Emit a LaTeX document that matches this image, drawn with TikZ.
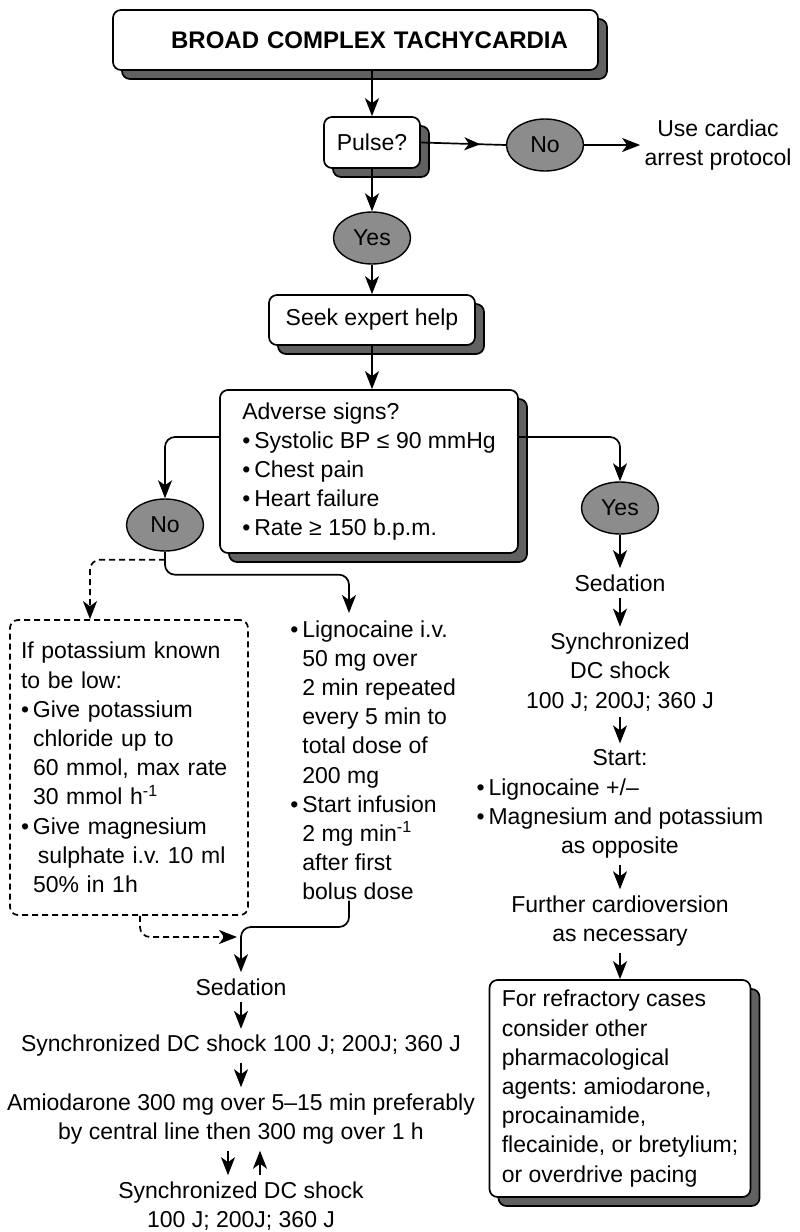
\documentclass[tikz,border=0pt]{standalone}
\usepackage{fontspec}
\setmainfont{Liberation Sans}
\usetikzlibrary{arrows.meta,positioning,calc,shapes.geometric,shadows,decorations.markings}
\newcommand{\flowfs}{\fontsize{11.5}{14.6}\selectfont\frenchspacing}
\newcommand{\bl}{\makebox[6pt][l]{\textbullet}}
\newcommand{\hi}{\hspace*{6pt}}
\newlength{\maglen}
\definecolor{shade}{gray}{0.38}
\definecolor{ovalgray}{gray}{0.55}

\begin{document}
\begin{tikzpicture}[x=0.5pt,y=-0.5pt,font=\flowfs]
\tikzset{box/.style={draw,rounded corners=4pt,fill=white,line width=0.85pt,
    general shadow={fill=shade,draw=black,shadow xshift=4.5pt,shadow yshift=-4.5pt}},
  oval/.style={ellipse,draw,fill=ovalgray,minimum width=38.5pt,minimum height=26pt,inner sep=0pt,line width=0.7pt},
  txt/.style={align=center,inner xsep=2pt,inner ysep=3pt},
  arr/.style={-{Stealth[length=9pt,width=7pt,inset=2.5pt]},line width=0.85pt},
  midarr/.style={line width=0.85pt,postaction={decorate},decoration={markings,
    mark=at position 0.7 with {\arrow{Stealth[length=8pt,width=6.5pt,inset=2.3pt]}}}},
  dsh/.style={dash pattern=on 3pt off 2pt}}
\useasboundingbox (0,0) rectangle (799,1232);

% top of the chart
\node[box,font=\fontsize{12}{14}\selectfont\bfseries,minimum height=30pt,text width=212.5pt,inner xsep=15pt,align=right] (title) at (355.5,40) {BROAD COMPLEX TACHYCARDIA};
\node[box,minimum width=48pt,minimum height=25.5pt,inner sep=0pt] (pulse) at (372,142.5) {Pulse?};
\node[oval] (no1) at (545,145) {No};
\node[txt] (arrest) at (718,145) {Use cardiac\\arrest protocol};
\node[oval] (yes1) at (372,238) {Yes};
\node[box,minimum width=103pt,minimum height=25pt] (seek) at (372,320) {Seek expert help};
\node[box,align=left,minimum width=149pt,minimum height=81.5pt] (adv) at (369,471.5) {Adverse signs?\\\bl Systolic BP ≤ 90 mmHg\\\bl Chest pain\\\bl Heart failure\\\bl Rate ≥ 150 b.p.m.};
\node[oval] (no2) at (165,525) {No};
\node[oval] (yes2) at (620,508) {Yes};

% left branch
\node[draw,dsh,rounded corners=4pt,line width=0.85pt,minimum height=147.5pt,text width=108pt,inner xsep=5.5pt,align=left] (kbox) at (129,767.5) {If potassium known\\to be low:\\\bl Give potassium\\\hi chloride up to\\\hi 60 mmol, max rate\\\hi 30 mmol h\textsuperscript{-1}\\\bl Give magnesium\\\hspace*{8.5pt}sulphate i.v. 10 ml\\\hi 50\% in 1h};
\node[align=left,inner sep=0pt,anchor=north west] (lig) at (290,620) {\bl Lignocaine i.v.\\\hi 50 mg over\\\hi 2 min repeated\\\hi every 5 min to\\\hi total dose of\\\hi 200 mg\\\bl Start infusion\\\hi 2 mg min\textsuperscript{-1}\\\hi after first\\\hi bolus dose};
\coordinate (ligin) at (349,613);
\coordinate (merge) at (241,927);
\coordinate (dashin) at (237,937);
\node[txt] (sed1) at (241,987) {Sedation};
\node[txt] (dc1) at (241,1046) {Synchronized DC shock 100 J; 200J; 360 J};
\node[txt] (amio) at (241,1119) {Amiodarone 300 mg over 5--15 min preferably\\by central line then 300 mg over 1 h};
\node[txt] (dc3) at (241,1206) {Synchronized DC shock\\100 J; 200J; 360 J};

% right branch
\node[txt] (sed2) at (620,583) {Sedation};
\node[txt] (dc2) at (620,672) {Synchronized\\DC shock\\100 J; 200J; 360 J};
\node[txt] (start) at (620,804) {Start:\\\settowidth{\maglen}{\bl Magnesium and potassium}\makebox[\maglen][l]{\bl Lignocaine +/--}\\\bl Magnesium and potassium\\as opposite};
\node[txt] (fur) at (620,921) {Further cardioversion\\as necessary};
\node[box,align=left,minimum width=130.5pt,minimum height=108.5pt] (refr) at (620,1088.5) {For refractory cases\\consider other\\pharmacological\\agents: amiodarone,\\procainamide,\\flecainide, or bretylium;\\or overdrive pacing};

% connectors
\draw[arr] (title.south -| pulse.north) -- (pulse.north);
\draw[midarr] (pulse.east) -- (no1.west);
\draw[arr] (no1.east) -- (arrest.west);
\draw[arr] (pulse.south) -- (yes1.north);
\draw[arr] (yes1.south) -- (seek.north);
\draw[arr] (seek.south) -- (seek.south |- adv.north);
\draw[arr,rounded corners=5pt] ([yshift=17.25pt]adv.west) -| (no2.north);
\draw[arr,rounded corners=5pt] ([yshift=17.25pt]adv.east) -| (yes2.north);
\draw[arr,rounded corners=5pt] (no2.south) -- ++(0,23) -| (ligin);
\draw[arr,dsh,rounded corners=5pt] ([yshift=-4pt]no2.south) -| ([xshift=-19.5pt]kbox.north);
\draw[arr,rounded corners=5pt] (lig.south -| ligin) |- (merge) -- (sed1.north);
\draw[arr,dsh,rounded corners=5pt] ([xshift=5.5pt]kbox.south) |- (dashin);
\draw[arr] (sed1) -- (dc1);
\draw[arr] (dc1) -- (amio);
\draw[arr] ([xshift=-6.5pt]amio.south) -- ([xshift=-6.5pt]dc3.north);
\draw[arr] ([xshift=9.5pt]dc3.north) -- ([xshift=9.5pt]amio.south);
\draw[arr] (yes2) -- (sed2);
\draw[arr] (sed2) -- (dc2);
\draw[arr] (dc2) -- (start);
\draw[arr] (start) -- (fur);
\draw[arr] (fur) -- (refr);
\end{tikzpicture}
\end{document}
